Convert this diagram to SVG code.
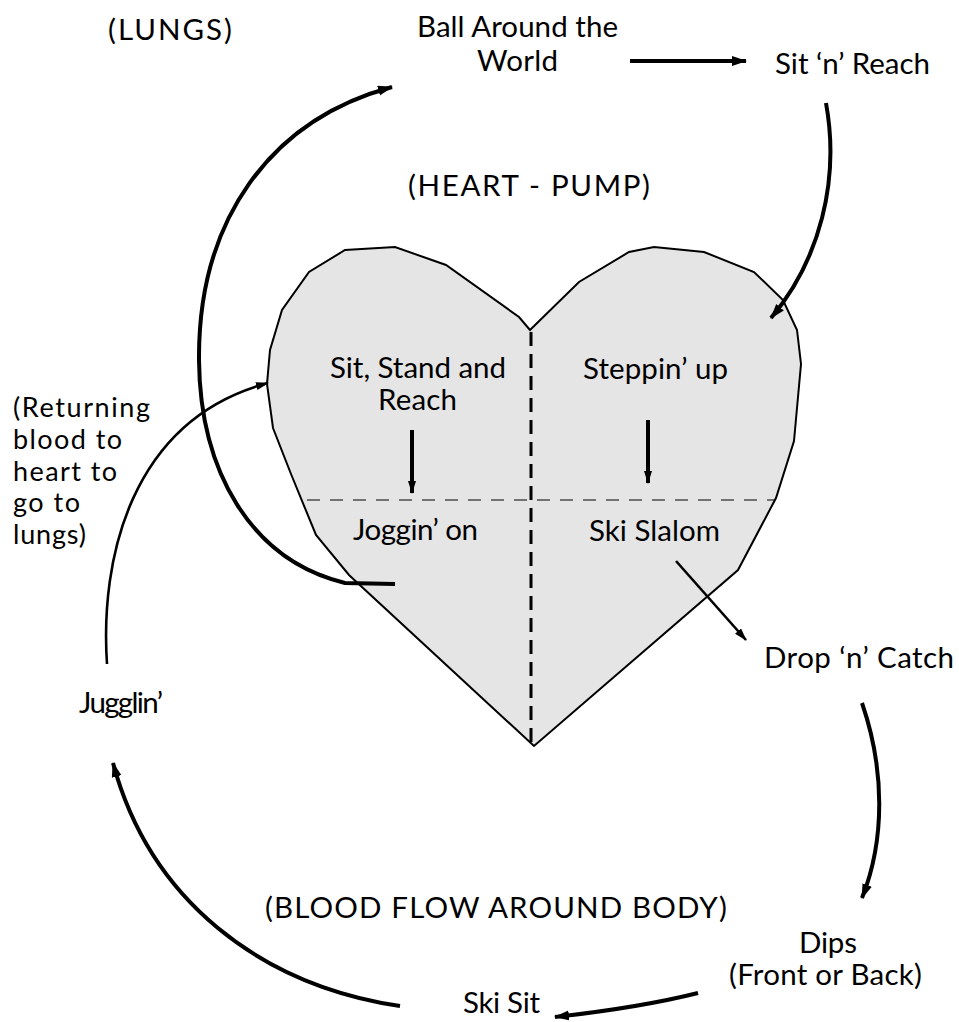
<svg xmlns="http://www.w3.org/2000/svg" width="959" height="1022" viewBox="0 0 959 1022">
<style>
text{font-family:Lato,"Open Sans","DejaVu Sans",sans-serif;font-size:29.5px;fill:#000}
.r{font-size:27px}
.c{fill:none;stroke:#000;stroke-width:4;stroke-linecap:butt}
.t{stroke-width:2.6}
</style>
<defs>
<marker id="ah" markerUnits="userSpaceOnUse" markerWidth="16" markerHeight="12" refX="14" refY="5" orient="auto">
<path d="M0,0 L15,5 L0,10 Z" fill="#000"/>
</marker>
<marker id="ahs" markerUnits="userSpaceOnUse" markerWidth="14" markerHeight="10" refX="12" refY="4" orient="auto">
<path d="M0,0 L13,4 L0,8 Z" fill="#000"/>
</marker>
</defs>
<rect width="959" height="1022" fill="#fff"/>
<g id="heart">
<path d="M530,330 L519,317 L446,265 L395,247 L345,250 L309,272 L282,310 L270,350 L267,384 L273,428 L291,474 L316,535 L349,575 L534,746 L738,570 L776,498 L794,441 L801,364 L797,330 L783,300 L754,272 L704,252 L654,247 L629,252 L579,282 Z" fill="#e5e5e5" stroke="#000" stroke-width="2"/>
<line x1="531" y1="332" x2="531" y2="744" stroke="#000" stroke-width="3" stroke-dasharray="14,8"/>
<line x1="307" y1="500" x2="775" y2="500" stroke="#000" stroke-width="1.2" stroke-dasharray="13,10"/>
</g>
<g id="labels-static">
<text x="108" y="40" textLength="124">(LUNGS)</text>
<text x="408" y="196" textLength="242">(HEART - PUMP)</text>
<text x="265" y="918" textLength="462">(BLOOD FLOW AROUND BODY)</text>
</g>
<g id="n-ball"><text x="417" y="37" textLength="201">Ball Around the</text><text x="477" y="71" textLength="81">World</text></g>
<g id="n-sitreach"><text x="775" y="74" textLength="155">Sit ‘n’ Reach</text></g>
<g id="n-sitstand"><text x="330" y="378" textLength="176">Sit, Stand and</text><text x="378" y="410" textLength="79">Reach</text></g>
<g id="n-steppin"><text x="583" y="379" textLength="145">Steppin’ up</text></g>
<g id="n-joggin"><text x="353" y="540" textLength="125">Joggin’ on</text></g>
<g id="n-slalom"><text x="589" y="541" textLength="131">Ski Slalom</text></g>
<g id="n-drop"><text x="764" y="668" textLength="190">Drop ‘n’ Catch</text></g>
<g id="n-returning">
<text class="r" x="13" y="417" textLength="137">(Returning</text>
<text class="r" x="13" y="449" textLength="109">blood to</text>
<text class="r" x="13" y="481" textLength="104">heart to</text>
<text class="r" x="13" y="512" textLength="67">go to</text>
<text class="r" x="13" y="544" textLength="73">lungs)</text>
</g>
<g id="n-juggle"><text x="79" y="713" textLength="84">Jugglin’</text></g>
<g id="n-dips"><text x="799" y="953" textLength="58">Dips</text><text x="729" y="985" textLength="193">(Front or Back)</text></g>
<g id="n-skisit"><text x="463" y="1013" textLength="77">Ski Sit</text></g>
<g id="connectors">
<path class="c" d="M395,584 L345,583 C250,560 200,470 199,360 C198,220 270,120 392,87" marker-end="url(#ah)"/>
<path class="c t" d="M107,664 C100,560 130,420 268,383" marker-end="url(#ahs)"/>
<path class="c" d="M630,61 L746,61" marker-end="url(#ah)"/>
<path class="c" d="M826,103 C840,180 820,260 771,318" marker-end="url(#ah)"/>
<path class="c t" d="M676,561 L746,640" marker-end="url(#ahs)"/>
<path class="c" d="M862,703 C885,770 885,840 862,898" marker-end="url(#ah)"/>
<path class="c" d="M698,993 C650,1005 600,1012 555,1017" marker-end="url(#ah)"/>
<path class="c" d="M400,1006 C260,985 150,900 113,763" marker-end="url(#ah)"/>
<path class="c" d="M412,430 L412,493" marker-end="url(#ahs)"/>
<path class="c" d="M648,420 L648,483" marker-end="url(#ahs)"/>
</g>
</svg>
